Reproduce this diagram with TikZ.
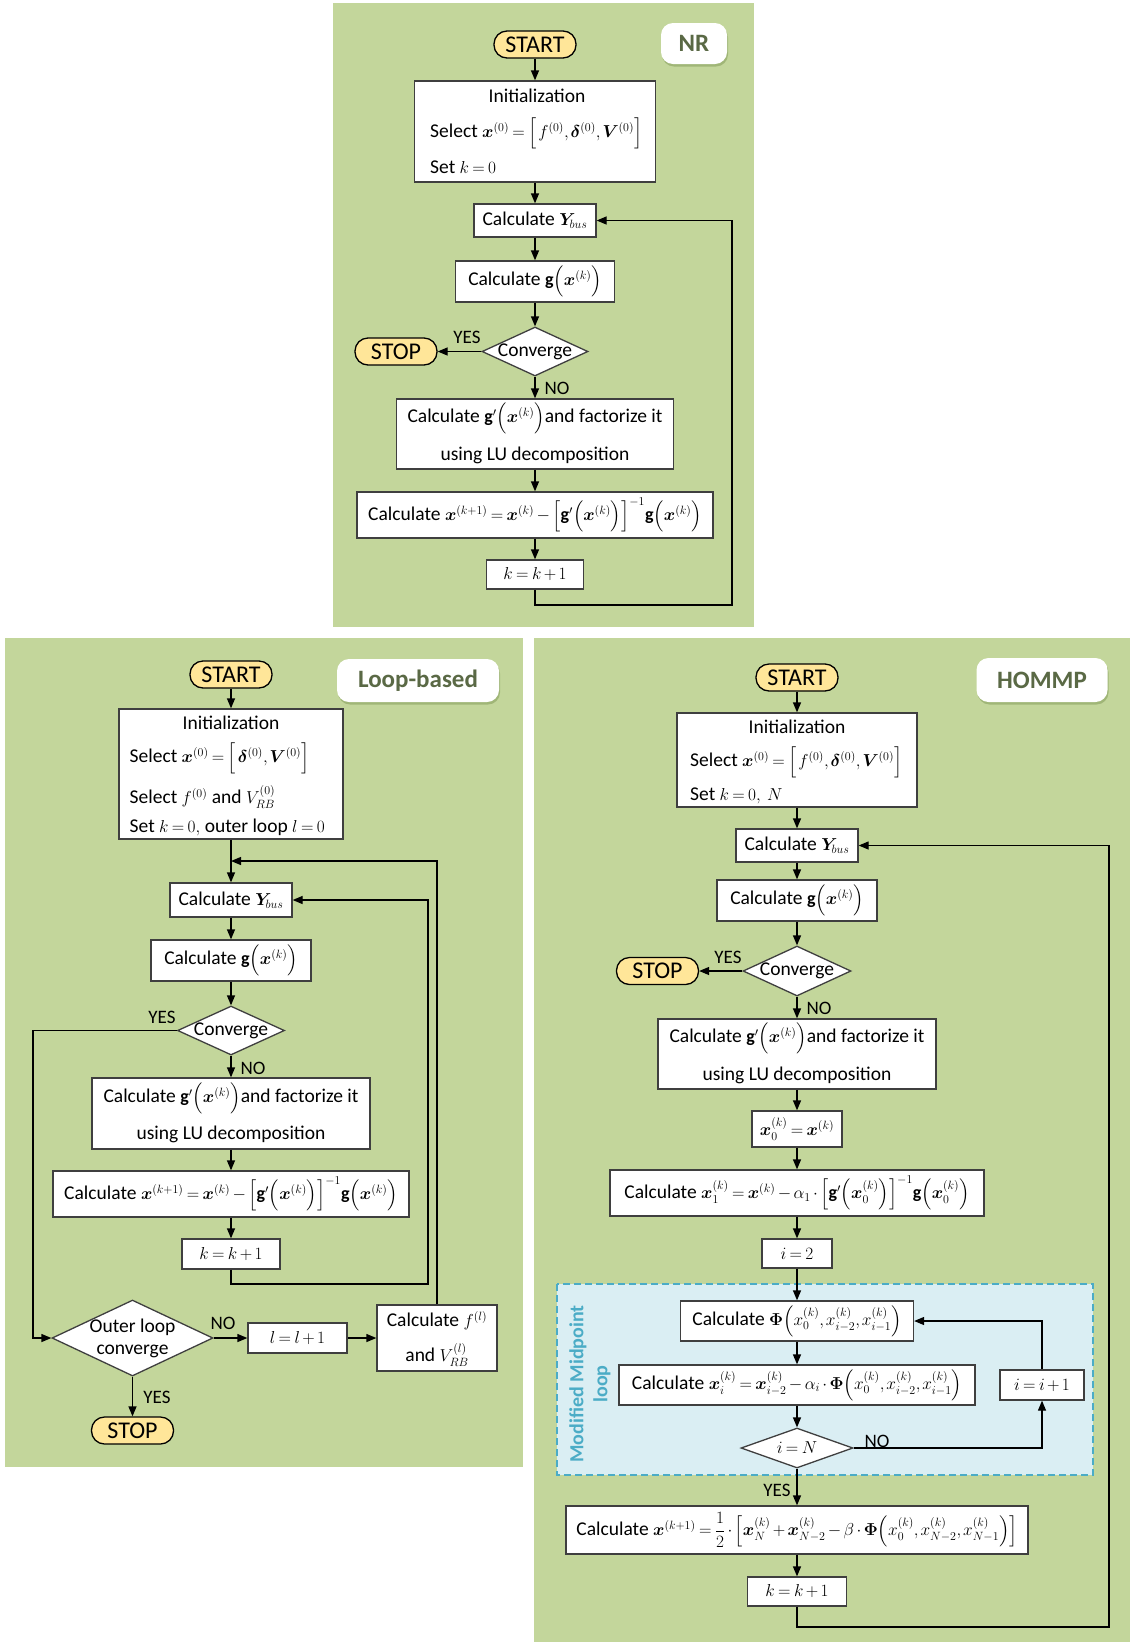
\documentclass[tikz,border=0pt]{standalone}
\usepackage{amsmath}
\usepackage{bm}
\usepackage{fontspec}
\setmainfont{Carlito}
\DeclareMathSizes{19.5}{18}{12.5}{9}
\usetikzlibrary{arrows.meta,shapes.geometric,shadows}
\definecolor{panelg}{HTML}{C3D69B}
\definecolor{termc}{HTML}{FFE699}
\definecolor{boxc}{HTML}{3F3F3F}
\definecolor{bluefill}{HTML}{DAEEF3}
\definecolor{bluedash}{HTML}{4BACC6}
\definecolor{tagtext}{HTML}{5A6945}
\definecolor{tagshadow}{HTML}{9DB374}
\newcommand{\xb}{\bm{x}}
\newcommand{\gvec}{\mathbf{g}}
\newcommand{\Phib}{\bm{\Phi}}
\newcommand{\pa}[1]{\Bigl(#1\Bigr)}
\newcommand{\br}[1]{\Bigl[#1\Bigr]}
\newcommand{\tightmath}{\thinmuskip=2mu\medmuskip=2.5mu plus 1mu\thickmuskip=3.5mu plus 1mu}
\begin{document}
\begin{tikzpicture}[x=1pt,y=-1pt,
  txt/.style={font=\fontsize{19.5}{23}\selectfont\tightmath, inner sep=0pt},
  lab/.style={font=\fontsize{19}{23}\selectfont, inner sep=0pt},
  box/.style={draw=boxc, fill=white, line width=1.3pt, inner sep=0pt},
  dia/.style={diamond, draw=boxc, fill=white, line width=1.3pt, inner sep=0pt},
  term/.style={draw=black, fill=termc, rounded corners=13pt, minimum width=82pt, minimum height=27pt, inner sep=0pt, line width=1.3pt, font=\fontsize{24}{27}\selectfont},
  tag/.style={fill=white, rounded corners=12pt, inner sep=0pt, font=\fontsize{25}{30}\selectfont\bfseries, text=tagtext, drop shadow={shadow xshift=1pt, shadow yshift=-2.5pt, fill=tagshadow, opacity=0.9}},
  arr/.style={-{Triangle[length=10pt,width=8pt]}, line width=1.3pt},
  midlab/.style={rotate=90, align=center, font=\fontsize{20}{24}\selectfont\bfseries, text=bluedash, inner sep=0pt}
]
\useasboundingbox (0,0) rectangle (1130,1642);
\fill[white] (0,0) rectangle (1130,1642);
% ================= NR =================
\fill[panelg] (333,3) rectangle (754,627);
\node[tag, minimum width=66pt, minimum height=41pt] (nrtag) at (694,43.5) {NR};
\node[term] (nrstart) at (535,44.5) {START};
\node[box, minimum width=241pt, minimum height=101pt] (nrinit) at (535,131.5) {};
\node[txt] (nrinit1) at (537,96) {Initialization};
\node[txt, anchor=west] (nrinit2) at (430,133) {Select $\xb^{(0)}=\br{\,f^{(0)},\bm{\delta}^{(0)},\bm{V}^{(0)}}$};
\node[txt, anchor=west] (nrinit3) at (430,167) {Set $k=0$};
\node[box, txt, minimum width=122pt, minimum height=33pt] (nrybus) at (535,220.5) {Calculate $\bm{Y}_{\!bus}$};
\node[box, txt, minimum width=159pt, minimum height=41pt] (nrg) at (535,281.5) {Calculate $\gvec\pa{\xb^{(k)}}$};
\node[dia, minimum width=106pt, minimum height=49pt] (nrconv) at (535,351.5) {};
\node[txt] (nrconvt) at (535,351.5) {Converge};
\node[term] (nrstop) at (396,351.5) {STOP};
\node[box, minimum width=277pt, minimum height=70pt] (nrlu) at (535,434) {};
\node[txt] (nrlu1) at (535,418) {Calculate $\gvec'\pa{\xb^{(k)}}$and factorize it};
\node[txt] (nrlu2) at (535,455) {using LU decomposition};
\node[box, txt, minimum width=356pt, minimum height=46pt] (nrnew) at (535,515) {Calculate $\xb^{(k+1)}=\xb^{(k)}-\br{\gvec'\pa{\xb^{(k)}}}^{-1}\gvec\pa{\xb^{(k)}}$};
\node[box, txt, minimum width=97pt, minimum height=29pt] (nrk) at (535,574.5) {$k=k+1$};
\node[lab] (nryes) at (467,337) {YES};
\node[lab] (nrno) at (557,388) {NO};
\draw[arr] (nrstart) -- (nrinit);
\draw[arr] (nrinit) -- (nrybus);
\draw[arr] (nrybus) -- (nrg);
\draw[arr] (nrg) -- (nrconv);
\draw[arr] (nrconv) -- (nrstop);
\draw[arr] (nrconv) -- (nrlu);
\draw[arr] (nrlu) -- (nrnew);
\draw[arr] (nrnew) -- (nrk);
\coordinate (nrc) at (732,605);
\draw[arr] (nrk.south) |- (nrc) |- (nrybus.east);
% ================= Loop-based =================
\fill[panelg] (5,638) rectangle (523,1467);
\node[tag, minimum width=162pt, minimum height=43pt] (lbtag) at (418,680.5) {Loop-based};
\node[term] (lbstart) at (231,674.5) {START};
\node[box, minimum width=224pt, minimum height=130pt] (lbinit) at (231,774) {};
\node[txt] (lbinit1) at (231,723) {Initialization};
\node[txt, anchor=west] (lbinit2) at (129.5,758) {Select $\xb^{(0)}=\br{\,\bm{\delta}^{(0)},\bm{V}^{(0)}}$};
\node[txt, anchor=west] (lbinit3) at (129.5,797) {Select $f^{(0)}$ and $V_{RB}^{(0)}$};
\node[txt, anchor=west] (lbinit4) at (129.5,827) {Set $k=0,$ outer loop $l=0$};
\node[box, txt, minimum width=122pt, minimum height=34pt] (lbybus) at (231,900) {Calculate $\bm{Y}_{\!bus}$};
\node[box, txt, minimum width=160pt, minimum height=41pt] (lbg) at (231,960.5) {Calculate $\gvec\pa{\xb^{(k)}}$};
\node[dia, minimum width=107pt, minimum height=49pt] (lbconv) at (231,1030.5) {};
\node[txt] (lbconvt) at (231,1030.5) {Converge};
\node[box, minimum width=278pt, minimum height=71pt] (lblu) at (231,1113.5) {};
\node[txt] (lblu1) at (231,1098) {Calculate $\gvec'\pa{\xb^{(k)}}$and factorize it};
\node[txt] (lblu2) at (231,1134) {using LU decomposition};
\node[box, txt, minimum width=356pt, minimum height=46pt] (lbnew) at (231,1194) {Calculate $\xb^{(k+1)}=\xb^{(k)}-\br{\gvec'\pa{\xb^{(k)}}}^{-1}\gvec\pa{\xb^{(k)}}$};
\node[box, txt, minimum width=98pt, minimum height=30pt] (lbk) at (231,1254) {$k=k+1$};
\node[dia, minimum width=161pt, minimum height=76pt] (lbouter) at (132.5,1338) {};
\node[txt] (lbouter1) at (132.5,1327) {Outer loop};
\node[txt] (lbouter2) at (132.5,1351) {converge};
\node[box, txt, minimum width=99pt, minimum height=30pt] (lbl) at (297.5,1338) {$l=l+1$};
\node[box, minimum width=120pt, minimum height=66pt] (lbf) at (437,1338) {};
\node[txt] (lbf1) at (437,1321) {Calculate $f^{(l)}$};
\node[txt] (lbf2) at (437,1355) {and $V_{RB}^{(l)}$};
\node[term] (lbstop) at (132.5,1430.5) {STOP};
\node[lab] (lbyes1) at (162,1017) {YES};
\node[lab] (lbno1) at (253,1068) {NO};
\node[lab] (lbno2) at (223,1323) {NO};
\node[lab] (lbyes2) at (157,1397) {YES};
\draw[arr] (lbstart) -- (lbinit);
\draw[arr] (lbinit) -- (lbybus);
\draw[arr] (lbybus) -- (lbg);
\draw[arr] (lbg) -- (lbconv);
\draw[arr] (lbconv) -- (lblu);
\draw[arr] (lblu) -- (lbnew);
\draw[arr] (lbnew) -- (lbk);
\coordinate (lbc1) at (428,1284);
\draw[arr] (lbk.south) |- (lbc1) |- (lbybus.east);
\coordinate (lbc2) at (33,1030.5);
\draw[arr] (lbconv.west) -- (lbc2) |- (lbouter.west);
\draw[arr] (lbouter) -- (lbl);
\draw[arr] (lbl) -- (lbf);
\coordinate (lbc3) at (231,861);
\draw[arr] (lbf.north) |- (lbc3);
\draw[arr] (lbouter) -- (lbstop);
% ================= HOMMP =================
\fill[panelg] (534,638) rectangle (1130,1642);
\draw[bluedash, fill=bluefill, line width=1.3pt, dash pattern=on 7pt off 4pt] (557,1284) rectangle (1093,1475);
\node[midlab] (hmmid) at (590,1384) {Modified Midpoint\\loop};
\node[tag, minimum width=131pt, minimum height=44pt] (hmtag) at (1042,680) {HOMMP};
\node[term] (hmstart) at (797,677.5) {START};
\node[box, minimum width=240pt, minimum height=94pt] (hminit) at (797,760) {};
\node[txt] (hminit1) at (797,727) {Initialization};
\node[txt, anchor=west] (hminit2) at (690,762) {Select $\xb^{(0)}=\br{\,f^{(0)},\bm{\delta}^{(0)},\bm{V}^{(0)}}$};
\node[txt, anchor=west] (hminit3) at (690,796) {Set $k=0,\ N$};
\node[box, txt, minimum width=122pt, minimum height=33pt] (hmybus) at (797,845.5) {Calculate $\bm{Y}_{\!bus}$};
\node[box, txt, minimum width=160pt, minimum height=41pt] (hmg) at (797,900.5) {Calculate $\gvec\pa{\xb^{(k)}}$};
\node[dia, minimum width=108pt, minimum height=50pt] (hmconv) at (797,971) {};
\node[txt] (hmconvt) at (797,971) {Converge};
\node[term] (hmstop) at (657.5,971) {STOP};
\node[box, minimum width=278pt, minimum height=70pt] (hmlu) at (797,1054) {};
\node[txt] (hmlu1) at (797,1038) {Calculate $\gvec'\pa{\xb^{(k)}}$and factorize it};
\node[txt] (hmlu2) at (797,1075) {using LU decomposition};
\node[box, txt, minimum width=90pt, minimum height=36pt] (hmx0) at (797,1129) {$\xb_0^{(k)}=\xb^{(k)}$};
\node[box, txt, minimum width=374pt, minimum height=46pt] (hmx1) at (797,1193) {Calculate $\xb_1^{(k)}=\xb^{(k)}-\alpha_1\cdot\br{\gvec'\pa{\xb_0^{(k)}}}^{-1}\gvec\pa{\xb_0^{(k)}}$};
\node[box, txt, minimum width=70pt, minimum height=29pt] (hmi2) at (797,1253.5) {$i=2$};
\node[box, txt, minimum width=233pt, minimum height=40pt] (hmphi) at (797,1321) {Calculate $\Phib\pa{x_0^{(k)},x_{i-2}^{(k)},x_{i-1}^{(k)}}$};
\node[box, txt, minimum width=356pt, minimum height=40pt] (hmxi) at (797,1385) {Calculate $\xb_i^{(k)}=\xb_{i-2}^{(k)}-\alpha_i\cdot\Phib\pa{x_0^{(k)},x_{i-2}^{(k)},x_{i-1}^{(k)}}$};
\node[box, txt, minimum width=84pt, minimum height=30pt] (hmii) at (1042,1385) {$i=i+1$};
\node[dia, minimum width=112pt, minimum height=40pt] (hmin) at (797,1448) {};
\node[txt] (hmint) at (797,1448) {$i=N$};
\node[box, txt, minimum width=462pt, minimum height=48pt] (hmnew) at (797,1530) {Calculate $\xb^{(k+1)}=\dfrac{1}{2}\cdot\br{\xb_N^{(k)}+\xb_{N-2}^{(k)}-\beta\cdot\Phib\pa{x_0^{(k)},x_{N-2}^{(k)},x_{N-1}^{(k)}}}$};
\node[box, txt, minimum width=99pt, minimum height=29pt] (hmk) at (797,1591.5) {$k=k+1$};
\node[lab] (hmyes1) at (728,957) {YES};
\node[lab] (hmno1) at (819,1008) {NO};
\node[lab] (hmno2) at (877,1441) {NO};
\node[lab] (hmyes2) at (777,1490) {YES};
\draw[arr] (hmstart) -- (hminit);
\draw[arr] (hminit) -- (hmybus);
\draw[arr] (hmybus) -- (hmg);
\draw[arr] (hmg) -- (hmconv);
\draw[arr] (hmconv) -- (hmstop);
\draw[arr] (hmconv) -- (hmlu);
\draw[arr] (hmlu) -- (hmx0);
\draw[arr] (hmx0) -- (hmx1);
\draw[arr] (hmx1) -- (hmi2);
\draw[arr] (hmi2) -- (hmphi);
\draw[arr] (hmphi) -- (hmxi);
\draw[arr] (hmxi) -- (hmin);
\draw[arr] (hmin.east) -| (hmii.south);
\draw[arr] (hmii.north) |- (hmphi.east);
\draw[arr] (hmin) -- (hmnew);
\draw[arr] (hmnew) -- (hmk);
\coordinate (hmc) at (1109,1627);
\draw[arr] (hmk.south) |- (hmc) |- (hmybus.east);
\end{tikzpicture}
\end{document}
